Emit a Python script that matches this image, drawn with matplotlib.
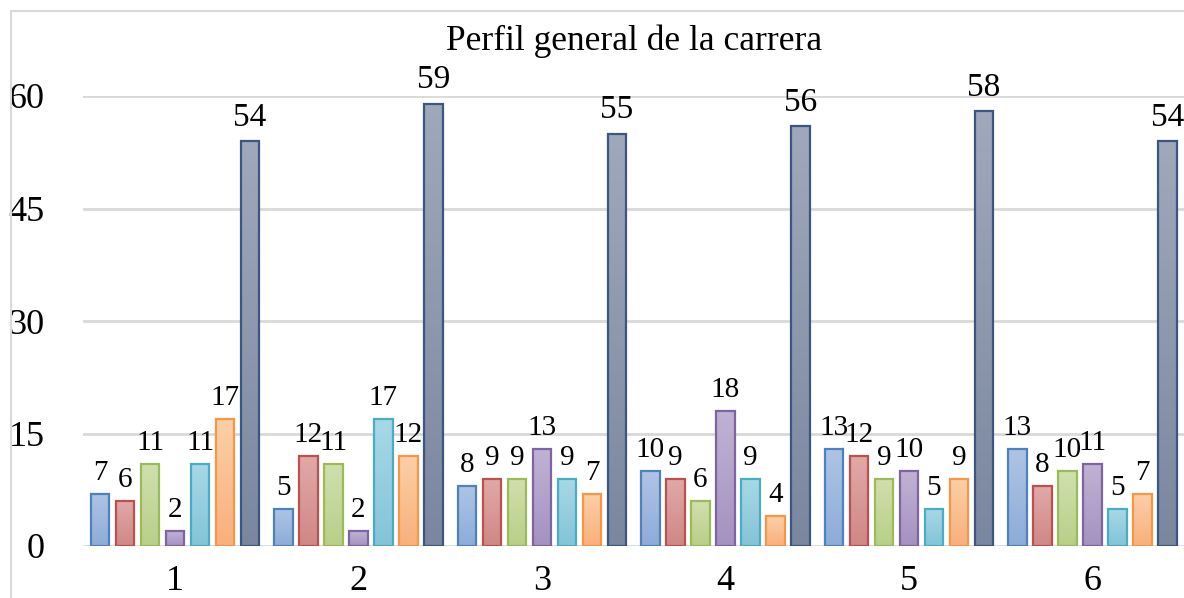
import numpy as np
import matplotlib
matplotlib.use("Agg")
import matplotlib.pyplot as plt
from matplotlib.patches import Rectangle
from matplotlib.colors import to_rgb

categories = ["1", "2", "3", "4", "5", "6"]
s1 = [7, 5, 8, 10, 13, 13]
s2 = [6, 12, 9, 9, 12, 8]
s3 = [11, 11, 9, 6, 9, 10]
s4 = [2, 2, 13, 18, 10, 11]
s5 = [11, 17, 9, 9, 5, 5]
s6 = [17, 12, 7, 4, 9, 7]
s7 = [54, 59, 55, 56, 58, 54]
series = [s1, s2, s3, s4, s5, s6, s7]
yticks = [0, 15, 30, 45, 60]
title = "Perfil general de la carrera"

tops = ["#aec4e4", "#e0a9a8", "#d0e0ae", "#c0b2d4", "#a8d8e6", "#fccfa8", "#a0a8bb"]
bots = ["#8eacd8", "#cf8886", "#b8cf88", "#a592c0", "#84c4d8", "#f8b07c", "#7a879f"]
edges = ["#4f81bd", "#c0504d", "#9bbb59", "#8064a2", "#4bacc6", "#f79646", "#3b5680"]

plt.rcParams['font.family'] = ['Liberation Serif', 'DejaVu Serif']

fig = plt.figure(figsize=(11.84, 5.98), dpi=100)
W, H = 1184, 598
ax = fig.add_axes([83.3 / W, 1 - 546 / H, (1184 - 83.3) / W, (546 - 96) / H])

pitch = 25 / 183.4
bw = 18.5 / 183.4
x = np.arange(len(categories))
for i, s in enumerate(series):
    off = (i - 3) * pitch
    grad = np.linspace(0, 1, 64)[:, None]
    c0 = np.array(to_rgb(tops[i]))
    c1 = np.array(to_rgb(bots[i]))
    for xi, v in zip(x, s):
        x0 = xi + off - bw / 2
        img = (c0[None, None, :] * (1 - grad[..., None]) + c1[None, None, :] * grad[..., None])
        ax.imshow(img, extent=(x0, x0 + bw, 0, v), aspect='auto', origin='upper',
                  zorder=3, interpolation='bilinear')
        ax.add_patch(Rectangle((x0, 0), bw, v, facecolor='none', edgecolor=edges[i],
                               linewidth=1.6, zorder=4))
        fs = 24 if i == 6 else 21
        dy = 6 if i == 6 else 5.5
        ax.annotate(str(v), (xi + off, v), xytext=(0, dy), textcoords='offset points',
                    ha='center', va='bottom', fontsize=fs, color='black',
                    annotation_clip=False, zorder=5)

ax.set_xlim(-0.5, 5.5)
ax.set_ylim(0, 60)
ax.set_yticks(yticks)
ax.set_yticklabels([str(t) for t in yticks], fontsize=26)
ax.set_xticks(x)
ax.set_xticklabels(categories, fontsize=26)
ax.tick_params(axis='y', length=0, pad=28)
ax.tick_params(axis='x', length=0, pad=14)
ax.grid(axis='y', color='#d9d9d9', linewidth=2, zorder=0)
ax.set_axisbelow(True)
for sp in ax.spines.values():
    sp.set_visible(False)

fig.text((83.3 + 1184) / 2 / W, 1 - 41 / H, title, ha='center', va='center', fontsize=25.5)

border = Rectangle((11 / W, -0.2), 1.2, 1 - 11 / H + 0.2, transform=fig.transFigure,
                   facecolor='none', edgecolor='#d9d9d9', linewidth=1.5)
fig.patches.append(border)

fig.savefig("out.png", dpi=100)
